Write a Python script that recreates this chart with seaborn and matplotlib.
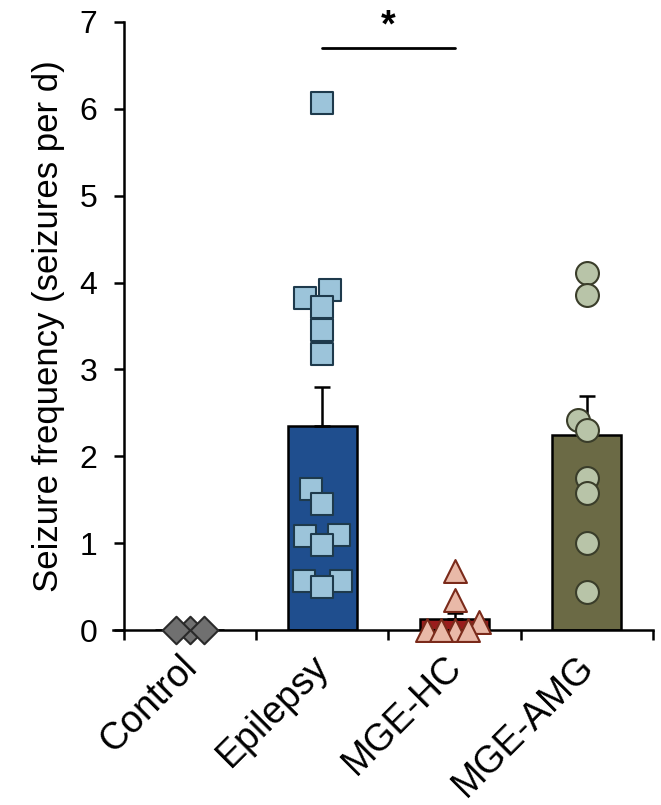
import matplotlib
matplotlib.use("Agg")
import matplotlib.pyplot as plt
import matplotlib.transforms as mtransforms
import seaborn as sns
import numpy as np
import pandas as pd

# Data
groups = ["Control", "Epilepsy", "MGE-HC", "MGE-AMG"]

control_vals = [0.0, 0.0, 0.0]
epilepsy_vals = [6.07, 3.92, 3.82, 3.72, 3.45, 3.18, 1.63, 1.45,
                 1.10, 1.08, 0.98, 0.57, 0.57, 0.50]
mge_hc_vals = [0.68, 0.35, 0.10, 0.0, 0.0, 0.0, 0.0]
mge_amg_vals = [4.11, 3.86, 2.42, 2.30, 1.75, 1.58, 1.00, 0.44]

bar_means = [0.0, 2.35, 0.13, 2.25]
bar_sems = [0.0, 0.45, 0.07, 0.45]

# Styling
bar_colors = ["#6e6e6e", "#1f4e8e", "#9a1c1c", "#6b6a45"]
point_fill = ["#707070", "#9cc4da", "#e9b9a8", "#b8c4a8"]
point_edge = ["#2a2a2a", "#1e3a4c", "#7a2a1a", "#3a3d2a"]
markers = ["D", "s", "^", "o"]
swarm_sizes = [8, 12, 8, 8]       # size used for the swarm layout (lets markers overlap)
marker_sizes = [14, 16.5, 16.5, 16.5]  # size actually drawn

sns.set_style("ticks")
plt.rcParams["font.family"] = ["Liberation Sans", "DejaVu Sans"]
for key in ["text.color", "axes.labelcolor", "xtick.color", "ytick.color",
            "axes.edgecolor"]:
    plt.rcParams[key] = "black"

fig = plt.figure(figsize=(6.61, 8.05), dpi=100)
ax = fig.add_axes([0.171, 0.217, 0.817, 0.756])

# Bars (mean)
sns.barplot(x=groups, y=bar_means, order=groups, hue=groups, palette=bar_colors,
            legend=False, width=0.52, saturation=1, edgecolor="black",
            linewidth=1.8, ax=ax, zorder=2)

# One-sided SEM error bars
for i, (m, s) in enumerate(zip(bar_means, bar_sems)):
    if s > 0:
        ax.errorbar(i, m, yerr=[[0], [s]], fmt="none", ecolor="black",
                    elinewidth=1.8, capsize=6, capthick=1.8, zorder=3)

# Individual animals
values = [control_vals, epilepsy_vals, mge_hc_vals, mge_amg_vals]
point_colls = []
for g, vals, mk, fc, ec, sz in zip(groups, values, markers, point_fill,
                                   point_edge, swarm_sizes):
    df = pd.DataFrame({"group": g, "value": vals})
    n_before = len(ax.collections)
    sns.swarmplot(data=df, x="group", y="value", order=groups, marker=mk,
                  size=sz, color=fc, edgecolor=ec, linewidth=1.5, ax=ax,
                  zorder=4, warn_thresh=1)
    # seaborn adds an (empty) collection for every category in `order`
    point_colls += [c for c in ax.collections[n_before:]
                    if len(c.get_offsets()) > 0]

# Significance bar
ax.plot([1, 2], [6.70, 6.70], color="black", lw=2, clip_on=False)
ax.text(1.5, 6.74, "*", ha="center", va="bottom", fontsize=27,
        fontweight="bold")

# Axes styling: x axis runs a little past the y axis, as in the original
ax.set_xlim(-0.58, 3.5)
ax.set_ylim(0, 7)
ax.spines["left"].set_position(("data", -0.5))
ax.set_yticks(range(0, 8))
ax.set_xticks(range(len(groups)))
ax.set_xticklabels(groups, rotation=45, ha="right", rotation_mode="anchor",
                   fontsize=27)
ax.set_xticks(np.arange(-0.5, 3.6, 1.0), minor=True)
ax.tick_params(axis="x", which="major", length=0, pad=13)
ax.tick_params(axis="x", which="minor", length=7, width=1.8)
ax.tick_params(axis="y", length=7, width=1.8, pad=12, labelsize=23)
# nudge the rotated labels left (after tick_params, which resets transforms)
shift = mtransforms.ScaledTranslation(-8 / 72, 0, fig.dpi_scale_trans)
for lbl in ax.get_xticklabels():
    lbl.set_transform(lbl.get_transform() + shift)
ax.set_xlabel("")
ax.set_ylabel("Seizure frequency (seizures per d)", fontsize=25, labelpad=10)
for sp in ["top", "right"]:
    ax.spines[sp].set_visible(False)
for sp in ["left", "bottom"]:
    ax.spines[sp].set_linewidth(1.8)

# let seaborn lay out the swarms with the small size, then freeze the
# positions and draw the markers at full size
fig.canvas.draw()
for coll, sz in zip(point_colls, marker_sizes):
    offs = np.array(coll.get_offsets())
    if "draw" in coll.__dict__:
        del coll.draw
    coll.set_offsets(offs)
    coll.set_sizes([sz ** 2])
    coll.set_clip_on(False)

fig.savefig("out.png", dpi=100)
